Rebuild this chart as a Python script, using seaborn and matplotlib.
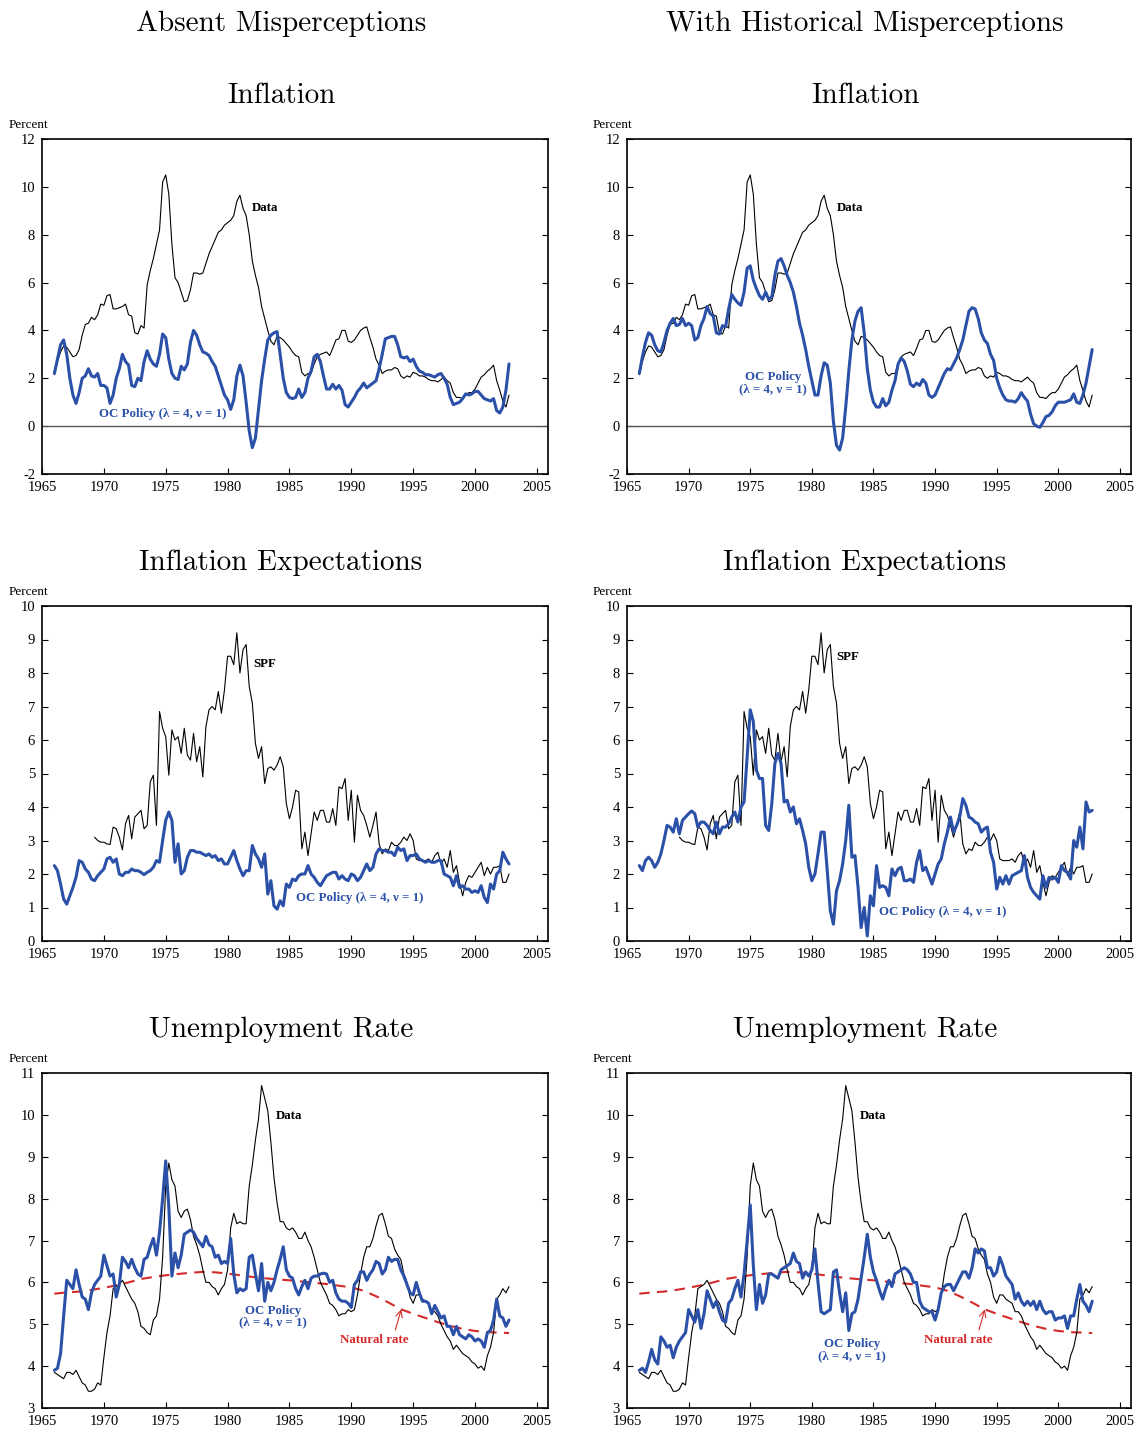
import numpy as np
import pandas as pd
import matplotlib
matplotlib.use("Agg")
import matplotlib.pyplot as plt
import seaborn as sns

# quarterly observations, 1966Q1 .. 2002Q4
quarters = 1966 + 0.25 * np.arange(148)
spf_quarters = 1969.25 + 0.25 * np.arange(135)

infl_data = [
    2.15, 2.7, 3.1, 3.35, 3.3, 3.1, 2.9, 2.95, 3.2, 3.8, 4.25, 4.3,
    4.55, 4.45, 4.65, 5.1, 5.05, 5.45, 5.5, 4.9, 4.9, 4.95, 5.0, 5.1,
    4.65, 4.6, 3.9, 3.85, 4.2, 4.1, 5.9, 6.5, 7.0, 7.6, 8.2, 10.2,
    10.5, 9.7, 7.6, 6.2, 6.0, 5.6, 5.2, 5.25, 5.7, 6.4, 6.4, 6.35,
    6.4, 6.8, 7.2, 7.5, 7.8, 8.1, 8.2, 8.4, 8.5, 8.6, 8.8, 9.4,
    9.65, 9.1, 8.8, 8.0, 6.9, 6.3, 5.8, 5.0, 4.5, 4.0, 3.55, 3.4,
    3.75, 3.7, 3.6, 3.45, 3.3, 3.1, 2.95, 2.9, 2.25, 2.1, 2.2, 2.2,
    2.6, 2.9, 3.0, 3.05, 3.1, 2.95, 3.25, 3.6, 3.65, 4.0, 4.0, 3.55,
    3.5, 3.6, 3.8, 4.0, 4.1, 4.15, 3.7, 3.3, 2.8, 2.55, 2.2, 2.3,
    2.35, 2.35, 2.45, 2.4, 2.1, 2.0, 2.1, 2.05, 2.25, 2.2, 2.1, 2.1,
    2.05, 1.95, 1.9, 1.9, 1.85, 1.95, 2.05, 1.9, 1.8, 1.4, 1.2, 1.2,
    1.15, 1.3, 1.4, 1.4, 1.55, 1.8, 2.05, 2.15, 2.3, 2.4, 2.55, 1.9,
    1.5, 1.05, 0.8, 1.3,
]
infl_oc_absent = [
    2.2, 2.8, 3.4, 3.6, 3.0, 2.0, 1.3, 0.95, 1.4, 2.0, 2.1, 2.4,
    2.1, 2.05, 2.2, 1.7, 1.7, 1.6, 0.95, 1.3, 2.0, 2.4, 3.0, 2.7,
    2.55, 1.7, 1.65, 2.0, 1.9, 2.7, 3.15, 2.8, 2.6, 2.5, 3.0, 3.85,
    3.7, 2.8, 2.2, 2.0, 1.95, 2.5, 2.35, 2.6, 3.5, 4.0, 3.8, 3.4,
    3.1, 3.05, 2.95, 2.7, 2.5, 2.1, 1.7, 1.3, 1.1, 0.7, 1.1, 2.1,
    2.55, 2.1, 1.0, -0.2, -0.9, -0.5, 0.7, 1.9, 2.8, 3.6, 3.8, 3.9,
    3.95, 3.0, 2.0, 1.4, 1.2, 1.15, 1.2, 1.55, 1.2, 1.4, 2.0, 2.3,
    2.9, 3.0, 2.7, 2.1, 1.55, 1.55, 1.75, 1.55, 1.7, 1.5, 0.9, 0.8,
    1.0, 1.2, 1.45, 1.6, 1.8, 1.6, 1.7, 1.8, 1.9, 2.4, 3.0, 3.65,
    3.7, 3.75, 3.75, 3.4, 2.9, 2.85, 2.9, 2.7, 2.8, 2.5, 2.3, 2.25,
    2.15, 2.15, 2.1, 2.05, 2.15, 2.2, 2.0, 1.75, 1.2, 0.9, 0.95, 1.0,
    1.15, 1.35, 1.3, 1.35, 1.45, 1.45, 1.3, 1.15, 1.1, 1.05, 1.15, 0.65,
    0.55, 0.8, 1.5, 2.6,
]
infl_oc_hist = [
    2.2, 2.9, 3.5, 3.9, 3.8, 3.4, 3.15, 3.1, 3.5, 4.0, 4.3, 4.5,
    4.2, 4.25, 4.5, 4.2, 4.3, 4.2, 3.6, 3.7, 4.2, 4.5, 5.0, 4.7,
    4.6, 3.9, 3.85, 4.2, 4.15, 4.9, 5.5, 5.3, 5.15, 5.05, 5.6, 6.6,
    6.7, 6.1, 5.75, 5.45, 5.3, 5.6, 5.3, 5.4, 6.3, 6.9, 7.0, 6.7,
    6.3, 6.0, 5.6, 5.0, 4.3, 3.8, 3.2, 2.5, 1.9, 1.3, 1.3, 2.1,
    2.65, 2.55, 1.8, 0.2, -0.8, -1.0, -0.5, 0.8, 2.3, 3.6, 4.4, 4.8,
    4.95, 3.9, 2.4, 1.5, 1.0, 0.8, 0.8, 1.15, 0.85, 1.0, 1.5, 1.9,
    2.6, 2.85, 2.7, 2.3, 1.75, 1.65, 1.8, 1.7, 1.95, 1.8, 1.3, 1.2,
    1.3, 1.6, 1.9, 2.2, 2.4, 2.35, 2.6, 2.85, 3.2, 3.6, 4.2, 4.8,
    4.95, 4.9, 4.5, 3.9, 3.6, 3.45, 3.0, 2.75, 2.0, 1.6, 1.3, 1.1,
    1.05, 1.05, 1.0, 1.15, 1.4, 1.2, 1.05, 0.5, 0.1, 0.0, -0.05, 0.15,
    0.4, 0.45, 0.6, 0.85, 1.0, 1.0, 1.0, 1.05, 1.1, 1.35, 1.0, 0.95,
    1.3, 1.8, 2.5, 3.2,
]

spf = [
    3.1, 3.0, 2.95,
    2.95, 2.9, 2.88, 3.4, 3.35, 3.1, 2.72, 3.5, 3.75, 3.05, 3.7, 3.8,
    3.9, 3.35, 3.45, 4.75, 4.95, 3.45, 6.85, 6.35, 6.1, 4.95, 6.3, 6.0,
    6.1, 5.6, 6.35, 5.55, 5.4, 6.2, 5.35, 5.8, 4.9, 6.4, 6.9, 7.0,
    6.9, 7.45, 6.8, 7.5, 8.5, 8.5, 8.25, 9.2, 8.0, 8.7, 8.85, 7.6,
    7.1, 5.9, 5.45, 5.8, 4.7, 5.15, 5.2, 5.1, 5.25, 5.5, 5.2, 4.1,
    3.65, 4.0, 4.5, 4.45, 2.75, 3.25, 2.55, 3.2, 3.85, 3.6, 3.9, 3.9,
    3.55, 3.55, 3.95, 3.45, 4.6, 4.55, 4.85, 3.6, 4.5, 2.95, 4.35, 3.9,
    3.75, 3.45, 3.1, 3.45, 3.85, 2.9, 2.6, 2.75, 2.7, 2.95, 2.85, 2.85,
    2.95, 3.1, 3.0, 3.2, 3.0, 2.45, 2.4, 2.4, 2.4, 2.45, 2.35, 2.55,
    2.65, 2.3, 2.45, 2.2, 2.7, 2.05, 2.25, 1.75, 1.35, 1.75, 1.95, 1.9,
    2.05, 2.2, 2.35, 1.95, 2.2, 2.0, 2.2, 2.2, 2.25, 1.75, 1.75, 2.0,
]
exp_oc_absent = [
    2.25, 2.1, 1.7, 1.25, 1.1, 1.35, 1.6, 1.9, 2.4, 2.35, 2.15, 2.05,
    1.85, 1.8, 1.95, 2.05, 2.15, 2.45, 2.5, 2.35, 2.45, 2.0, 1.95, 2.05,
    2.05, 2.15, 2.1, 2.1, 2.05, 1.98, 2.05, 2.1, 2.2, 2.4, 2.35, 3.0,
    3.6, 3.85, 3.6, 2.35, 2.9, 2.0, 2.1, 2.5, 2.7, 2.7, 2.65, 2.65,
    2.6, 2.55, 2.6, 2.5, 2.55, 2.4, 2.45, 2.3, 2.3, 2.5, 2.7, 2.4,
    2.15, 1.95, 2.1, 2.1, 2.85, 2.6, 2.45, 2.2, 2.6, 1.4, 1.8, 1.05,
    0.95, 1.2, 1.05, 1.7, 1.6, 1.85, 1.8, 1.95, 2.0, 2.0, 2.25, 2.0,
    1.9, 1.75, 1.65, 1.8, 1.95, 2.0, 2.05, 2.05, 1.85, 1.95, 1.85, 1.8,
    2.0, 1.95, 1.8, 1.9, 2.1, 2.3, 2.1, 2.2, 2.6, 2.75, 2.7, 2.7,
    2.65, 2.65, 2.55, 2.8, 2.7, 2.75, 2.4, 2.55, 2.55, 2.6, 2.45, 2.4,
    2.35, 2.4, 2.35, 2.35, 2.4, 2.4, 2.0, 1.95, 1.9, 1.65, 1.95, 1.6,
    1.65, 1.55, 1.55, 1.45, 1.5, 1.45, 1.65, 1.3, 1.15, 1.7, 1.55, 2.0,
    2.1, 2.65, 2.45, 2.3,
]
exp_oc_hist = [
    2.25, 2.1, 2.4, 2.5, 2.4, 2.2, 2.35, 2.6, 3.0, 3.45, 3.4, 3.25,
    3.65, 3.2, 3.6, 3.7, 3.8, 3.88, 3.8, 3.4, 3.55, 3.55, 3.45, 3.3,
    3.2, 3.55, 3.2, 3.4, 3.4, 3.5, 3.7, 3.85, 3.55, 4.0, 4.15, 5.5,
    6.9, 6.55, 5.1, 4.85, 4.85, 3.45, 3.3, 4.1, 5.3, 5.6, 5.3, 4.15,
    4.2, 3.85, 4.0, 3.5, 3.65, 3.3, 2.9, 2.2, 1.8, 2.0, 2.6, 3.25,
    3.25, 2.1, 0.9, 0.5, 1.5, 1.8, 2.3, 3.0, 4.05, 2.5, 2.55, 1.6,
    0.4, 1.0, 0.15, 1.35, 1.05, 2.25, 1.6, 1.65, 1.6, 1.35, 2.15, 1.95,
    2.15, 2.2, 1.8, 1.8, 1.85, 1.75, 2.35, 2.7, 2.1, 2.2, 1.95, 1.7,
    2.0, 2.3, 2.45, 2.9, 3.25, 3.7, 3.25, 3.45, 3.7, 4.25, 4.05, 3.7,
    3.65, 3.55, 3.5, 3.25, 3.35, 3.4, 2.65, 2.35, 1.55, 1.9, 1.7, 1.95,
    1.7, 1.95, 2.0, 2.05, 2.1, 2.55, 1.9, 1.6, 1.45, 1.35, 1.25, 1.95,
    1.6, 1.9, 1.85, 1.9, 1.75, 2.25, 2.1, 2.05, 1.85, 3.0, 2.8, 3.4,
    2.75, 4.15, 3.85, 3.9,
]

unemp_data = [
    3.85, 3.8, 3.75, 3.7, 3.85, 3.85, 3.8, 3.9, 3.75, 3.6, 3.55, 3.4,
    3.4, 3.45, 3.6, 3.55, 4.2, 4.8, 5.2, 5.85, 5.9, 5.95, 6.05, 5.9,
    5.75, 5.6, 5.5, 5.3, 4.95, 4.9, 4.8, 4.75, 5.1, 5.2, 5.6, 6.6,
    8.3, 8.85, 8.45, 8.3, 7.7, 7.55, 7.7, 7.75, 7.5, 7.1, 6.9, 6.65,
    6.3, 6.0, 6.0, 5.9, 5.85, 5.7, 5.85, 5.95, 6.3, 7.3, 7.65, 7.4,
    7.45, 7.4, 7.4, 8.3, 8.8, 9.4, 9.9, 10.7, 10.4, 10.1, 9.35, 8.5,
    7.9, 7.45, 7.45, 7.3, 7.25, 7.3, 7.2, 7.05, 7.05, 7.2, 7.0, 6.85,
    6.6, 6.3, 6.0, 5.85, 5.7, 5.5, 5.45, 5.35, 5.2, 5.25, 5.25, 5.35,
    5.3, 5.35, 5.7, 6.2, 6.6, 6.85, 6.85, 7.05, 7.35, 7.6, 7.65, 7.4,
    7.1, 7.05, 6.8, 6.65, 6.55, 6.2, 6.0, 5.65, 5.5, 5.7, 5.7, 5.6,
    5.55, 5.5, 5.3, 5.3, 5.2, 5.0, 4.85, 4.7, 4.6, 4.4, 4.5, 4.4,
    4.3, 4.25, 4.2, 4.1, 4.05, 3.95, 4.0, 3.9, 4.25, 4.45, 4.8, 5.6,
    5.7, 5.85, 5.75, 5.9,
]
unemp_oc_absent = [
    3.9, 3.95, 4.3, 5.2, 6.05, 5.95, 5.85, 6.3, 5.95, 5.65, 5.6, 5.35,
    5.75, 5.95, 6.05, 6.15, 6.65, 6.4, 6.15, 6.2, 5.65, 5.95, 6.6, 6.5,
    6.35, 6.55, 6.35, 6.2, 6.15, 6.55, 6.6, 6.85, 7.05, 6.65, 7.2, 8.0,
    8.9, 7.8, 6.15, 6.7, 6.35, 6.65, 7.15, 7.2, 7.25, 7.2, 7.05, 6.95,
    6.85, 7.1, 6.9, 6.85, 6.6, 6.65, 6.45, 6.5, 6.45, 7.05, 6.2, 5.75,
    5.85, 5.8, 5.85, 6.6, 6.65, 6.2, 5.8, 6.45, 5.55, 6.0, 5.8, 6.0,
    6.3, 6.55, 6.85, 6.3, 6.15, 6.1, 5.85, 5.7, 5.9, 6.05, 5.85, 6.1,
    6.15, 6.15, 6.2, 6.22, 6.2, 6.0, 6.05, 5.75, 5.6, 5.55, 5.55, 5.5,
    5.4, 5.95, 6.05, 6.25, 6.25, 6.05, 6.2, 6.3, 6.5, 6.45, 6.2, 6.3,
    6.6, 6.5, 6.55, 6.55, 6.3, 6.15, 5.95, 5.75, 5.7, 6.0, 5.75, 5.55,
    5.55, 5.5, 5.25, 5.45, 5.3, 5.15, 5.2, 4.95, 4.95, 4.75, 4.95, 4.75,
    4.7, 4.65, 4.75, 4.7, 4.6, 4.65, 4.6, 4.45, 4.8, 4.85, 5.1, 5.6,
    5.2, 5.15, 4.95, 5.1,
]
unemp_oc_hist = [
    3.9, 3.95, 3.85, 4.1, 4.4, 4.15, 4.05, 4.7, 4.6, 4.45, 4.5, 4.2,
    4.45, 4.6, 4.7, 4.8, 5.35, 5.2, 5.05, 5.35, 4.9, 5.25, 5.8, 5.6,
    5.4, 5.55, 5.3, 5.1, 5.05, 5.5, 5.6, 5.85, 6.05, 5.65, 6.2, 7.0,
    7.85, 6.4, 5.35, 5.95, 5.5, 5.7, 6.2, 6.2, 6.15, 6.1, 6.3, 6.35,
    6.4, 6.45, 6.7, 6.5, 6.45, 6.1, 6.25, 6.15, 6.3, 6.8, 6.0, 5.3,
    5.25, 5.3, 5.35, 6.25, 6.3, 5.75, 5.3, 5.75, 4.85, 5.25, 5.3, 5.6,
    6.1, 6.6, 7.15, 6.6, 6.25, 6.05, 5.8, 5.6, 5.85, 6.05, 5.9, 6.2,
    6.25, 6.3, 6.35, 6.3, 6.2, 6.0, 6.0, 5.55, 5.4, 5.35, 5.3, 5.3,
    5.1, 5.35, 5.75, 5.9, 5.95, 5.95, 5.8, 5.95, 6.1, 6.25, 6.25, 6.1,
    6.35, 6.8, 6.7, 6.8, 6.75, 6.35, 6.35, 6.15, 6.25, 6.6, 6.4, 6.15,
    6.05, 5.95, 5.6, 5.75, 5.55, 5.45, 5.55, 5.45, 5.55, 5.35, 5.55, 5.35,
    5.25, 5.3, 5.3, 5.1, 5.15, 5.15, 5.2, 4.9, 5.2, 5.2, 5.6, 5.95,
    5.55, 5.45, 5.3, 5.55,
]

nat_years = [1966, 1967, 1968, 1969, 1970, 1971, 1972, 1973, 1974, 1975,
             1976, 1977, 1978, 1979, 1980, 1981, 1982, 1983, 1984, 1985,
             1986, 1987, 1988, 1989, 1990, 1991, 1992, 1993, 1994, 1995,
             1996, 1997, 1998, 1999, 2000, 2001, 2002, 2002.75]
nat_rate = [5.73, 5.76, 5.78, 5.82, 5.87, 5.93, 6.0, 6.08, 6.13, 6.17,
            6.2, 6.23, 6.25, 6.24, 6.21, 6.17, 6.13, 6.1, 6.07, 6.05,
            6.02, 5.99, 5.96, 5.92, 5.88, 5.8, 5.67, 5.52, 5.36, 5.25,
            5.15, 5.05, 4.96, 4.89, 4.84, 4.81, 4.8, 4.79]

col_titles = ["Absent Misperceptions", "With Historical Misperceptions"]
row_titles = ["Inflation", "Inflation Expectations", "Unemployment Rate"]
x_ticks = [1965, 1970, 1975, 1980, 1985, 1990, 1995, 2000, 2005]

BLUE = "#2b50a8"
RED = "#d42a2a"

sns.set_theme(style="ticks")
plt.rcParams["font.family"] = ["Liberation Serif", "DejaVu Serif"]
plt.rcParams["axes.unicode_minus"] = False
plt.rcParams["text.color"] = "black"

fig = plt.figure(figsize=(11.36, 14.32), dpi=100)

col_left = [42 / 1136, 627 / 1136]
col_width = [506 / 1136, 504 / 1136]
row_bottom = [1 - 474 / 1432, 1 - 941 / 1432, 1 - 1408 / 1432]
row_height = 335 / 1432
col_title_x = [281 / 1136, 865 / 1136]
row_title_y = [1 - 96 / 1432, 1 - 563 / 1432, 1 - 1030 / 1432]
percent_y = [1 - 125 / 1432, 1 - 592 / 1432, 1 - 1059 / 1432]
percent_x = [9 / 1136, 593 / 1136]

ylims = [(-2, 12), (0, 10), (3, 11)]
yticks = [range(-2, 13, 2), range(0, 11), range(3, 12)]

main_series = [infl_data, spf, unemp_data]
main_x = [quarters, spf_quarters, quarters]
oc_series = [[infl_oc_absent, infl_oc_hist],
             [exp_oc_absent, exp_oc_hist],
             [unemp_oc_absent, unemp_oc_hist]]

lab_kw = dict(fontsize=9.3, fontweight="bold")

for c in range(2):
    fig.text(col_title_x[c], 1 - 24 / 1432, col_titles[c], ha="center", va="center",
             fontsize=21, family="cmr10", color="black")
    for r in range(3):
        ax = fig.add_axes([col_left[c], row_bottom[r], col_width[c], row_height])
        fig.text(col_title_x[c], row_title_y[r], row_titles[r], ha="center", va="center",
                 fontsize=21, family="cmr10", color="black")
        fig.text(percent_x[c], percent_y[r], "Percent", ha="left", va="center", fontsize=9.5)

        if r == 0:
            ax.axhline(0, color="#555555", lw=1.0, zorder=1)
        if r == 2:
            nat = pd.DataFrame({"year": nat_years, "rate": nat_rate})
            sns.lineplot(data=nat, x="year", y="rate", ax=ax, color=RED, lw=1.5, legend=False)
            ax.lines[-1].set_dashes([5, 3.5])

        df_main = pd.DataFrame({"year": main_x[r], "value": main_series[r]})
        sns.lineplot(data=df_main, x="year", y="value", ax=ax, color="black", lw=0.8,
                     legend=False, zorder=3)
        df_oc = pd.DataFrame({"year": quarters, "value": oc_series[r][c]})
        sns.lineplot(data=df_oc, x="year", y="value", ax=ax, color=BLUE, lw=2.2,
                     legend=False, zorder=4)

        ax.set_xlim(1965, 2005.9)
        ax.set_ylim(*ylims[r])
        ax.set_xticks(x_ticks)
        ax.set_yticks(list(yticks[r]))
        ax.set_xlabel("")
        ax.set_ylabel("")
        ax.tick_params(direction="in", right=True, top=False, length=4, width=0.8,
                       labelsize=10.5, colors="black", pad=5)
        for sp in ax.spines.values():
            sp.set_visible(True)
            sp.set_color("black")
            sp.set_linewidth(1.2)

        # series labels
        if r == 0:
            ax.text(1982.0, 9.1, "Data", color="black", va="center", **lab_kw)
            if c == 0:
                ax.text(1969.6, 0.5, "OC Policy (λ = 4, ν = 1)", color=BLUE, va="center", **lab_kw)
            else:
                ax.text(1976.85, 1.8, "OC Policy\n(λ = 4, ν = 1)", color=BLUE, ha="center",
                        va="center", linespacing=1.0, **lab_kw)
        elif r == 1:
            if c == 0:
                ax.text(1982.05, 8.27, "SPF", color="black", va="center", **lab_kw)
                ax.text(1985.5, 1.28, "OC Policy (λ = 4, ν = 1)", color=BLUE, va="center", **lab_kw)
            else:
                ax.text(1982.0, 8.48, "SPF", color="black", va="center", **lab_kw)
                ax.text(1985.45, 0.87, "OC Policy (λ = 4, ν = 1)", color=BLUE, va="center", **lab_kw)
        else:
            ax.text(1983.9, 9.97, "Data", color="black", va="center", **lab_kw)
            oc_pos = (1983.67, 5.18) if c == 0 else (1983.25, 4.39)
            ax.text(oc_pos[0], oc_pos[1], "OC Policy\n(λ = 4, ν = 1)", color=BLUE, ha="center",
                    va="center", linespacing=1.0, **lab_kw)
            ax.text(1991.9, 4.63, "Natural rate", color=RED, ha="center", va="center", **lab_kw)
            ax.annotate("", xy=(1994.1, 5.42), xytext=(1993.5, 4.8),
                        arrowprops=dict(arrowstyle="->", color=RED, lw=0.8))

fig.savefig("out.png", dpi=100)
